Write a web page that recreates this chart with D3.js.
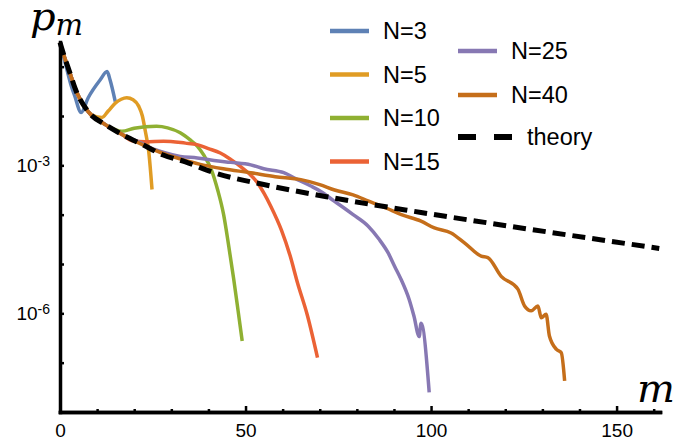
<!DOCTYPE html>
<html><head><meta charset="utf-8">
<script src="https://cdn.jsdelivr.net/npm/d3@7"></script>
<style>body{margin:0;background:#fff}svg{display:block}</style>
</head><body>
<svg id="c" width="677" height="442"></svg>
<script>
// ---- data (m values, log10 of p_m) ----
const theoryM    = [0,1,2,3,4,7.6,12.2,16.8,22.2,27.8,33.8,41.4,54.9,73,97.3,127,161.5];
const theoryLogP = [-0.51,-0.757,-0.98,-1.2,-1.425,-1.911,-2.174,-2.377,-2.579,-2.79,-2.93,-3.146,-3.389,-3.652,-3.955,-4.30,-4.684];

const n3M    = [0,1,2,3,4,5.7,7.6,10.8,12.7,13.5,14.9];
const n3LogP = [-0.51,-0.8,-1.1,-1.38,-1.6,-1.93,-1.63,-1.27,-1.10,-1.27,-1.71];

const n5M    = [0,1,2,3,4,7.6,10,11.3,13,14.9,16.5,18,19.7,21.2,22.2,23,23.9,24.8];
const n5LogP = [-0.51,-0.757,-0.98,-1.2,-1.425,-1.911,-2.02,-2.03,-1.9,-1.74,-1.66,-1.63,-1.67,-1.80,-2.0,-2.31,-2.71,-3.49];

const n10M    = [0,1,2,3,4,7.6,12.2,16.7,20,23,26,29,32.4,35,37,38.8,40.8,42.5,44.1,45.5,46.8,48,49.1];
const n10LogP = [-0.51,-0.757,-0.98,-1.2,-1.425,-1.911,-2.174,-2.31,-2.25,-2.22,-2.21,-2.24,-2.34,-2.48,-2.61,-2.8,-3.09,-3.5,-4.0,-4.65,-5.3,-5.95,-6.56];

const n15M    = [0,1,2,3,4,7.6,12.2,16.8,19.4,23,27.9,33.8,36.9,40,43.2,46,48.6,51,53.2,55,56.8,59.7,62,64,66.7,69.4];
const n15LogP = [-0.51,-0.757,-0.98,-1.2,-1.425,-1.911,-2.174,-2.377,-2.5,-2.52,-2.51,-2.55,-2.58,-2.66,-2.75,-2.88,-3.02,-3.17,-3.35,-3.57,-3.83,-4.32,-4.83,-5.38,-6.05,-6.9];

const n25M    = [0,1,2,3,4,7.6,12.2,16.8,22.2,24.3,28,32.4,37,41.5,46,51.4,54.9,60.3,64,67.6,70.3,73.8,75.7,79,83,86,88.4,90.2,91.9,94.1,95.4,96.8,97.3,99.5];
const n25LogP = [-0.51,-0.757,-0.98,-1.2,-1.425,-1.911,-2.174,-2.377,-2.56,-2.64,-2.74,-2.82,-2.85,-2.9,-2.94,-2.99,-3.07,-3.15,-3.29,-3.42,-3.53,-3.72,-3.82,-4.0,-4.23,-4.5,-4.77,-5.05,-5.31,-5.72,-6.06,-6.47,-6.2,-7.6];

const n40M    = [0,1,2,3,4,7.6,12.2,16.8,22.2,27.8,32.4,37.8,44,51.4,58,64.9,70,74,79,83,88,92,97.3,100.9,105.4,109,113.5,115.3,118.9,123.4,125.2,127,128.8,129.7,131,131.9,133.8,135.1,136];
const n40LogP = [-0.51,-0.757,-0.98,-1.2,-1.425,-1.911,-2.174,-2.377,-2.58,-2.76,-2.87,-2.98,-3.07,-3.15,-3.23,-3.29,-3.39,-3.5,-3.6,-3.72,-3.87,-4.0,-4.13,-4.27,-4.37,-4.57,-4.84,-4.87,-5.25,-5.51,-5.85,-5.95,-5.85,-6.09,-6.02,-6.46,-6.73,-6.8,-7.37];

const seriesNames  = ["N=3","N=5","N=10","N=15","N=25","N=40"];
const seriesColors = ["#5E81B5","#E09C24","#8FB032","#EB6235","#8778B3","#C56E1A"];
const xTickMajor = [0,50,100,150];
const xTickMinor = [10,20,30,40,60,70,80,90,110,120,130,140,160];
const yTickExps  = [-1,-2,-3,-4,-5,-6,-7];
const yLabelExps = [-3,-6];

// ---- chart ----
const svg = d3.select("#c");
const x = d3.scaleLinear().domain([0,161.7]).range([60,660]);
const y = d3.scaleLog().domain([1e-8, Math.pow(10,-0.5)]).range([412,42]);

const toPts = (ms, ls) => ms.map((m,i)=>[m, Math.pow(10, ls[i])]);
const series = [
  toPts(n3M,n3LogP), toPts(n5M,n5LogP), toPts(n10M,n10LogP),
  toPts(n15M,n15LogP), toPts(n25M,n25LogP), toPts(n40M,n40LogP)
];
const theory = toPts(theoryM, theoryLogP);

const line = d3.line().x(d=>x(d[0])).y(d=>y(d[1])).curve(d3.curveMonotoneX);

const gLines = svg.append("g");
series.forEach((s,i)=>{
  gLines.append("path").datum(s).attr("d",line)
    .attr("fill","none").attr("stroke",seriesColors[i])
    .attr("stroke-width",3.5).attr("stroke-linejoin","round");
});
gLines.append("path").datum(theory).attr("d",line)
  .attr("fill","none").attr("stroke","#000").attr("stroke-width",5)
  .attr("stroke-dasharray","13,7");

// axes
const fontTick = "'Liberation Sans', Arial, sans-serif";
const xMinor = svg.append("g").attr("transform","translate(0,412)")
  .call(d3.axisBottom(x).tickValues(xTickMinor).tickSize(-3).tickSizeOuter(0).tickFormat(""));
const xMajor = svg.append("g").attr("transform","translate(0,412)")
  .call(d3.axisBottom(x).tickValues(xTickMajor).tickSize(-6).tickSizeOuter(0).tickPadding(12));
[xMinor,xMajor].forEach(g=>{
  g.select(".domain").attr("stroke","#000").attr("stroke-width",3.5).attr("stroke-linecap","square");
  g.selectAll(".tick line").attr("stroke","#000").attr("stroke-width",2.5);
});
xMajor.selectAll(".tick text").attr("font-family",fontTick).attr("font-size",19).attr("fill","#000");

const yAx = svg.append("g").attr("transform","translate(60,0)")
  .call(d3.axisLeft(y).tickValues(yTickExps.map(e=>Math.pow(10,e))).tickSize(-4).tickSizeOuter(0).tickFormat(""));
yAx.select(".domain").attr("stroke","#000").attr("stroke-width",3.5).attr("stroke-linecap","square");
yAx.selectAll(".tick line").attr("stroke","#000").attr("stroke-width",2.5);

yLabelExps.forEach(e=>{
  const t = svg.append("text").attr("x",50).attr("y",y(Math.pow(10,e))+7)
    .attr("text-anchor","end").attr("font-family",fontTick).attr("fill","#000");
  t.append("tspan").attr("font-size",19).text("10");
  t.append("tspan").attr("font-size",14).attr("dy",-6).text("-" + Math.abs(e));
});

// axis titles
const mathFont = "'DejaVu Serif', serif";
const pt = svg.append("text").attr("x",30).attr("y",30).attr("font-family",mathFont)
  .attr("font-style","italic").attr("fill","#000");
pt.append("tspan").attr("font-size",40).text("p");
pt.append("tspan").attr("font-size",29).attr("dy",5).text("m");
svg.append("text").attr("x",637).attr("y",402).attr("font-family",mathFont)
  .attr("font-style","italic").attr("font-size",40).attr("fill","#000").text("m");

// legend
const col1 = [0,1,2,3], col2 = [4,5];
const lx1 = 330, ly1 = [31,74.5,118,161.5];
const lx2 = 458, ly2 = [51,95];
const leg = svg.append("g").attr("font-family",fontTick).attr("font-size",23.5);
col1.forEach((si,k)=>{
  leg.append("line").attr("x1",lx1).attr("x2",lx1+39).attr("y1",ly1[k]).attr("y2",ly1[k])
    .attr("stroke",seriesColors[si]).attr("stroke-width",4.5);
  leg.append("text").attr("x",383).attr("y",ly1[k]).attr("dy","0.35em").text(seriesNames[si]);
});
col2.forEach((si,k)=>{
  leg.append("line").attr("x1",lx2).attr("x2",lx2+39).attr("y1",ly2[k]).attr("y2",ly2[k])
    .attr("stroke",seriesColors[si]).attr("stroke-width",4.5);
  leg.append("text").attr("x",511).attr("y",ly2[k]).attr("dy","0.35em").text(seriesNames[si]);
});
leg.append("line").attr("x1",lx2).attr("x2",512).attr("y1",137).attr("y2",137)
  .attr("stroke","#000").attr("stroke-width",6).attr("stroke-dasharray","18,18");
leg.append("text").attr("x",527).attr("y",137).attr("dy","0.35em").text("theory");
</script>
</body></html>
